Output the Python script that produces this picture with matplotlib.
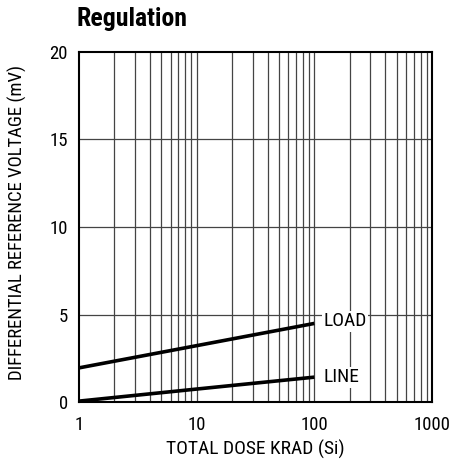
import matplotlib
matplotlib.use("Agg")
import matplotlib.pyplot as plt
from matplotlib import font_manager as fm

names = {f.name for f in fm.fontManager.ttflist}
prefs = ['Liberation Sans Narrow', 'Arial Narrow', 'Roboto Condensed', 'Archivo Narrow',
         'PT Sans Narrow', 'Sofia Sans Condensed', 'Liberation Sans']
fam = next(p for p in prefs if p in names)
plt.rcParams['font.family'] = [fam, 'DejaVu Sans']

dose = [1, 10, 100]
load_mv = [1.95, 3.22, 4.49]
line_mv = [0.05, 0.74, 1.42]
x_ticks = [1, 10, 100, 1000]
y_ticks = [0, 5, 10, 15, 20]

fig = plt.figure(figsize=(4.49, 4.61), dpi=100)
ax = fig.add_axes([79/449, 59/461, 353/449, 350/461])
ax.set_xscale('log')
ax.set_xlim(1, 1000)
ax.set_ylim(0, 20)

for dec in [1, 10, 100]:
    for m in range(1, 10):
        if dec * m == 1:
            continue
        ax.axvline(dec*m, color='#444444', lw=0.9, zorder=1)
for yv in [5, 10, 15]:
    ax.axhline(yv, color='#444444', lw=0.9, zorder=1)

ax.plot(dose, load_mv, color='black', lw=2.6, zorder=3, solid_capstyle='butt')
ax.plot(dose, line_mv, color='black', lw=2.6, zorder=3, solid_capstyle='butt')
ax.text(120, 4.62, 'LOAD', fontsize=14, va='center', ha='left',
        bbox=dict(facecolor='white', edgecolor='none', pad=1.0), zorder=4)
ax.text(120, 1.42, 'LINE', fontsize=14, va='center', ha='left',
        bbox=dict(facecolor='white', edgecolor='none', pad=1.0), zorder=4)

ax.set_xticks(x_ticks)
ax.set_xticklabels([str(t) for t in x_ticks])
ax.set_yticks(y_ticks)
ax.minorticks_off()
ax.tick_params(axis='both', length=0, labelsize=13.5)
ax.tick_params(axis='y', pad=8)
ax.tick_params(axis='x', pad=10)
for s in ax.spines.values():
    s.set_linewidth(1.5)
ax.set_xlabel('TOTAL DOSE KRAD (Si)', fontsize=14)
ax.xaxis.set_label_coords(0.5, -0.108)
ax.set_ylabel('DIFFERENTIAL REFERENCE VOLTAGE (mV)', fontsize=13.5)
ax.yaxis.set_label_coords(-0.147, 0.513)
fig.text(77/449, 435/461, 'Regulation', fontsize=18.5, fontweight='bold', va='baseline', ha='left')

fig.savefig('out.png', dpi=100)
